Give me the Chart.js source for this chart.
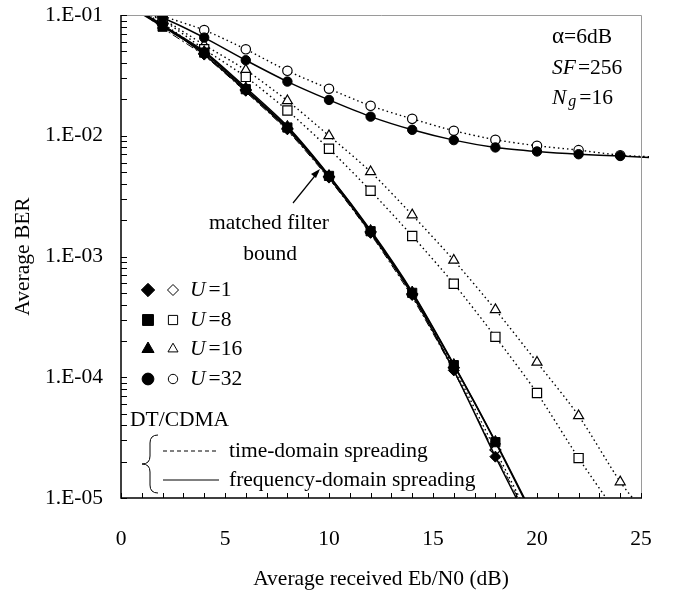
<!DOCTYPE html>
<html>
<head>
<meta charset="utf-8">
<script src="https://cdn.jsdelivr.net/npm/chart.js@4.4.0/dist/chart.umd.min.js"></script>
<style>
  html, body { margin: 0; padding: 0; background: #fff; }
  #wrap { width: 673px; height: 595px; }
</style>
</head>
<body>
<div id="wrap"><canvas id="berChart" width="673" height="595"></canvas></div>
<script>
// Eb/N0 (dB) sample points
const xSteep = [0, 2, 4, 6, 8, 10, 12, 14, 16, 18, 20];
const xU8Time = [0, 2, 4, 6, 8, 10, 12, 14, 16, 18, 20, 22, 24];
const xU16Time = [0, 2, 4, 6, 8, 10, 12, 14, 16, 18, 20, 22, 24, 25];
const xU32 = [0, 2, 4, 6, 8, 10, 12, 14, 16, 18, 20, 22, 24, 25.4];

// frequency-domain spreading (filled markers, solid line)
const berU1Freq  = [0.13, 0.083, 0.047, 0.0236, 0.0113, 0.0045, 0.00157, 0.00048, 0.000114, 2.2e-5, 4.6e-6];
const berU8Freq  = [0.13, 0.080, 0.0488, 0.0243, 0.0117, 0.00465, 0.00162, 0.00050, 0.000126, 2.9e-5, 6.0e-6];
const berU16Freq = [0.13, 0.082, 0.050, 0.025, 0.0120, 0.0047, 0.00165, 0.00051, 0.000128, 2.95e-5, 6.2e-6];
const berU32Freq = [0.125, 0.095, 0.065, 0.0422, 0.0281, 0.0198, 0.0144, 0.0112, 0.0092, 0.0080, 0.00741, 0.00703, 0.0068, 0.0066];

// time-domain spreading (open markers, dotted line)
const berU1Time  = [0.13, 0.085, 0.048, 0.024, 0.0115, 0.0046, 0.0016, 0.00049, 0.00012, 2.5e-5, 5.2e-6];
const berU8Time  = [0.12, 0.090, 0.052, 0.0307, 0.0162, 0.0078, 0.0035, 0.00148, 0.000595, 0.000216, 7.4e-5, 2.14e-5, 6.8e-6];
const berU16Time = [0.125, 0.092, 0.0565, 0.035, 0.0195, 0.0100, 0.00503, 0.00221, 0.00093, 0.000363, 0.000133, 4.8e-5, 1.36e-5, 8.2e-6];
const berU32Time = [0.13, 0.098, 0.075, 0.052, 0.0345, 0.0245, 0.0177, 0.0138, 0.0110, 0.00927, 0.00826, 0.0076, 0.0069, 0.0067];

// matched filter bound
const berMfb = [0.14, 0.078, 0.046, 0.023, 0.0110, 0.0044, 0.00153, 0.00046, 0.000112, 2.3e-5, 5.0e-6];

const yTickValues = [1e-5, 1e-4, 1e-3, 1e-2, 1e-1];
const yTickLabels = ['1.E-05', '1.E-04', '1.E-03', '1.E-02', '1.E-01'];

const legendRows = [
  { label: '1', style: 'rectRot' },
  { label: '8', style: 'rect' },
  { label: '16', style: 'triangle' },
  { label: '32', style: 'circle' }
];

const FONT = "'Liberation Serif', 'Times New Roman', serif";
const FS = 21.5;

const toPts = (xs, ys) => xs.map((x, i) => ({ x: x, y: ys[i] }));

const markerSize = { rectRot: 5.5, rect: 6.5, triangle: 5.8, circle: 4.7 };

function series(label, xs, ys, style, filled, extra) {
  return Object.assign({
    label: label,
    data: toPts(xs, ys),
    borderColor: '#000',
    borderWidth: filled ? 1.5 : 1.4,
    borderDash: filled ? [] : [1.5, 3],
    pointStyle: style,
    pointRadius: c => (c.raw && c.raw.x > 24.5 ? 0 : markerSize[style]),
    pointBackgroundColor: filled ? '#000' : '#fff',
    pointBorderColor: '#000',
    pointBorderWidth: filled ? 1 : 1.2,
    tension: 0.25,
    fill: false
  }, extra || {});
}

const datasets = [
  series('U=8 FDS', xSteep, berU8Freq, 'rect', true),
  series('U=1 FDS', xSteep, berU1Freq, 'rectRot', true),
  series('U=16 FDS', xSteep, berU16Freq, 'triangle', true),
  series('U=32 FDS', xU32, berU32Freq, 'circle', true, { clip: { left: 0, top: 0, right: 8, bottom: 0 } }),
  series('U=1 TDS', xSteep, berU1Time, 'rectRot', false),
  series('U=8 TDS', xU8Time, berU8Time, 'rect', false),
  series('U=16 TDS', xU16Time, berU16Time, 'triangle', false),
  series('U=32 TDS', xU32, berU32Time, 'circle', false, { clip: { left: 0, top: 0, right: 8, bottom: 0 } }),
  {
    label: 'matched filter bound',
    data: toPts(xSteep, berMfb),
    borderColor: '#000',
    borderWidth: 1,
    borderDash: [8, 3, 2, 3],
    pointRadius: 0,
    tension: 0.25,
    fill: false
  }
];

function drawMixed(ctx, parts, x, y, size) {
  let cx = x;
  parts.forEach(p => {
    ctx.font = (p.italic ? 'italic ' : '') + (p.size || size) + 'px ' + FONT;
    ctx.fillText(p.text, cx, y + (p.dy || 0));
    cx += ctx.measureText(p.text).width + (p.gap || 0);
  });
}

const berDecor = {
  id: 'berDecor',
  afterDatasetsDraw(chart) {
    const { ctx, chartArea: a, scales: { x, y } } = chart;
    ctx.save();

    // frame: grey top/right, black left/bottom
    ctx.strokeStyle = '#9a9a9a';
    ctx.lineWidth = 1;
    ctx.beginPath();
    ctx.moveTo(a.left, a.top + 0.5);
    ctx.lineTo(a.right + 0.5, a.top + 0.5);
    ctx.lineTo(a.right + 0.5, a.bottom);
    ctx.stroke();

    ctx.strokeStyle = '#000';
    ctx.lineWidth = 1.5;
    ctx.beginPath();
    ctx.moveTo(a.left, a.top);
    ctx.lineTo(a.left, a.bottom);
    ctx.lineTo(a.right + 1, a.bottom);
    ctx.stroke();

    // inward ticks
    ctx.lineWidth = 1;
    ctx.beginPath();
    for (let e = -5; e <= -2; e++) {
      for (let m = 1; m <= 9; m++) {
        const py = Math.round(y.getPixelForValue(m * Math.pow(10, e))) + 0.5;
        ctx.moveTo(a.left, py);
        ctx.lineTo(a.left + 6, py);
      }
    }
    const pTop = Math.round(y.getPixelForValue(1e-1)) + 0.5;
    ctx.moveTo(a.left, pTop);
    ctx.lineTo(a.left + 6, pTop);
    for (let v = 0; v <= 25; v++) {
      const px = Math.round(x.getPixelForValue(v)) + 0.5;
      ctx.moveTo(px, a.bottom);
      ctx.lineTo(px, a.bottom - 5);
    }
    ctx.stroke();

    ctx.fillStyle = '#000';
    ctx.textBaseline = 'middle';
    ctx.textAlign = 'left';

    // parameters, top right
    drawMixed(ctx, [{ text: '\u03B1', size: 23 }, { text: '=6dB' }], 552, 37, FS);
    drawMixed(ctx, [{ text: 'SF', italic: true, gap: 2 }, { text: '=256' }], 552, 68, FS);
    drawMixed(ctx, [{ text: 'N', italic: true, gap: 2 }, { text: 'g', italic: true, size: 16, dy: 4, gap: 3 }, { text: '=16' }], 552, 98, FS);

    // matched filter bound label + arrow
    ctx.textAlign = 'center';
    ctx.font = FS + 'px ' + FONT;
    ctx.fillText('matched filter', 269, 223);
    ctx.fillText('bound', 270, 254);
    ctx.lineWidth = 1.2;
    ctx.beginPath();
    ctx.moveTo(293, 203);
    ctx.lineTo(318, 172);
    ctx.stroke();
    ctx.beginPath();
    ctx.moveTo(320, 169);
    ctx.lineTo(311, 174);
    ctx.lineTo(316, 178);
    ctx.closePath();
    ctx.fill();

    // legend of markers
    ctx.textAlign = 'left';
    const rowY = [290, 320, 349, 379];
    legendRows.forEach((r, i) => {
      const opts = { pointStyle: r.style, radius: markerSize[r.style] + 1.2, rotation: 0, borderWidth: 1 };
      ctx.fillStyle = '#000';
      ctx.strokeStyle = '#000';
      ctx.lineWidth = 1;
      Chart.helpers.drawPoint(ctx, opts, 148, rowY[i]);
      ctx.fillStyle = '#fff';
      Chart.helpers.drawPoint(ctx, Object.assign({}, opts, { radius: markerSize[r.style] }), 173, rowY[i]);
      ctx.fillStyle = '#000';
      drawMixed(ctx, [{ text: 'U', italic: true, gap: 3 }, { text: '=' + r.label }], 190, rowY[i], FS);
    });

    // DT/CDMA key
    ctx.font = FS + 'px ' + FONT;
    ctx.fillText('DT/CDMA', 130, 420);
    ctx.lineWidth = 1;
    ctx.beginPath();
    ctx.moveTo(158, 435);
    ctx.quadraticCurveTo(150, 435, 150, 443);
    ctx.lineTo(150, 456);
    ctx.quadraticCurveTo(150, 464, 142, 464);
    ctx.quadraticCurveTo(150, 464, 150, 472);
    ctx.lineTo(150, 485);
    ctx.quadraticCurveTo(150, 493, 158, 493);
    ctx.stroke();

    ctx.beginPath();
    ctx.setLineDash([4, 3]);
    ctx.moveTo(163, 451);
    ctx.lineTo(219, 451);
    ctx.stroke();
    ctx.setLineDash([]);
    ctx.beginPath();
    ctx.moveTo(163, 480);
    ctx.lineTo(219, 480);
    ctx.stroke();
    ctx.fillText('time-domain spreading', 229, 451);
    ctx.fillText('frequency-domain spreading', 229, 480);

    ctx.restore();
  }
};

const ctx = document.getElementById('berChart').getContext('2d');

new Chart(ctx, {
  type: 'line',
  data: { datasets: datasets },
  options: {
    responsive: false,
    animation: false,
    layout: { padding: { top: 15, right: 32, left: 0, bottom: 0 } },
    plugins: {
      legend: { display: false },
      tooltip: { enabled: false }
    },
    scales: {
      x: {
        type: 'linear',
        min: 0,
        max: 25,
        grid: { display: false, drawTicks: true, tickLength: 26 },
        border: { display: false },
        ticks: { stepSize: 5, color: '#000', padding: 2, font: { family: FONT, size: FS } },
        title: {
          display: true,
          text: 'Average received Eb/N0 (dB)',
          color: '#000',
          font: { family: FONT, size: FS },
          padding: { top: 0, bottom: 3 }
        },
        afterFit: s => { s.height = 97; }
      },
      y: {
        type: 'logarithmic',
        min: 1e-5,
        max: 1e-1,
        grid: { display: false, drawTicks: true, tickLength: 16 },
        border: { display: false },
        afterBuildTicks: s => { s.ticks = yTickValues.map(v => ({ value: v, major: true })); },
        ticks: {
          color: '#000',
          padding: 2,
          font: { family: FONT, size: FS },
          autoSkip: false,
          callback: v => yTickLabels[yTickValues.findIndex(t => Math.abs(t - v) / t < 1e-6)] || ''
        },
        title: {
          display: true,
          text: 'Average BER',
          color: '#000',
          font: { family: FONT, size: FS },
          padding: { top: 10, bottom: 0 }
        },
        afterFit: s => { s.width = 121; }
      }
    }
  },
  plugins: [berDecor]
});
</script>
</body>
</html>
